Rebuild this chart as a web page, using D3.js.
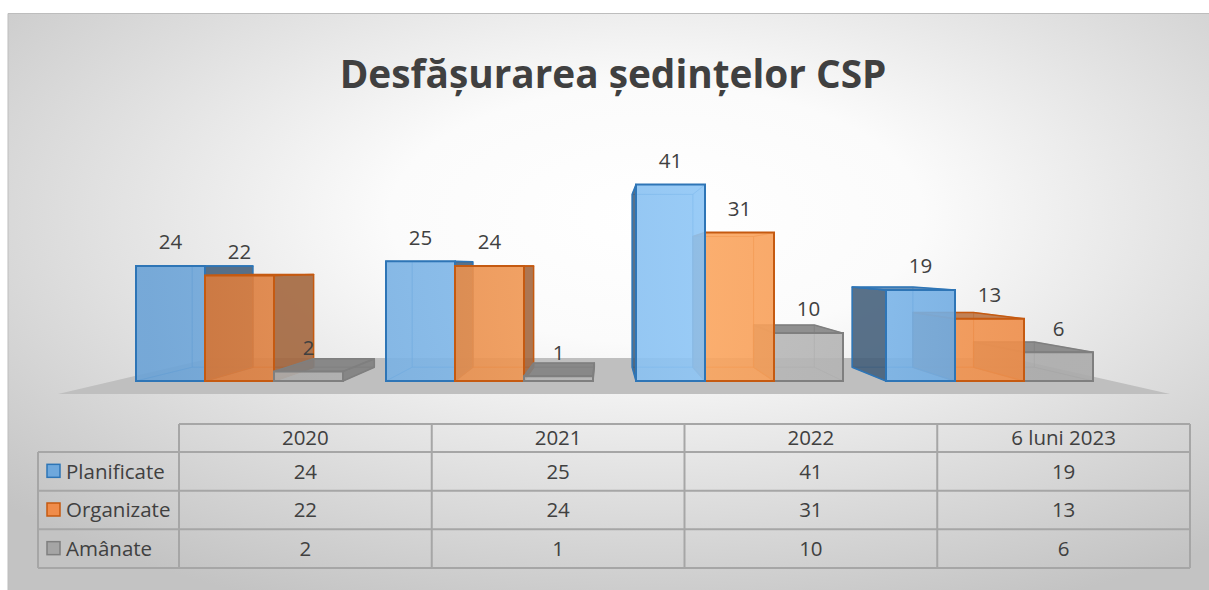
<!DOCTYPE html>
<html>
<head>
<meta charset="utf-8">
<script src="https://cdn.jsdelivr.net/npm/d3@7"></script>
<style>
  body { margin: 0; background: #fff; }
  text { font-family: "Open Sans", Lato, sans-serif; fill: #404040; }
</style>
</head>
<body>
<div class="chart"></div>
<script>
const categories = ["2020", "2021", "2022", "6 luni 2023"]
const seriesNames = ["Planificate", "Organizate", "Amânate"]
const planificate = [24, 25, 41, 19]
const organizate = [22, 24, 31, 13]
const amanate = [2, 1, 10, 6]
const title = "Desfășurarea ședințelor CSP"

const width = 1209, height = 590

const series = [
  {name: seriesNames[0], values: planificate, stroke: "#2e75b6", side: "#3f5a76", top: "#4f7fae",
    stops: ["#6aa2d6", "#8ec6f6", "#68a4dc"], key: "#6fa8dc"},
  {name: seriesNames[1], values: organizate, stroke: "#c55a11", side: "#9f6238", top: "#b9703e",
    stops: ["#d67638", "#fba65f", "#ee8c48"], key: "#f08c4a"},
  {name: seriesNames[2], values: amanate, stroke: "#7f7f7f", side: "#7c7c7c", top: "#7f7f7f",
    stops: ["#a9a9a9", "#bababa", "#ababab"], key: "#a5a5a5"}
]

// perspective: vanishing point + depth factor for the back faces
const VP = {x: 604, y: 266}
const depthK = 0.88

const svg = d3.select(".chart").append("svg")
  .attr("width", width)
  .attr("height", height)

const defs = svg.append("defs")

const bg = defs.append("radialGradient")
  .attr("id", "bg")
  .attr("cx", 0.54).attr("cy", 0.35).attr("r", 0.74)
bg.append("stop").attr("offset", 0).attr("stop-color", "#ffffff")
bg.append("stop").attr("offset", 0.3).attr("stop-color", "#fbfbfb")
bg.append("stop").attr("offset", 1).attr("stop-color", "#c3c3c3")

series.forEach((s, i) => {
  const g = defs.append("linearGradient")
    .attr("id", "front" + i)
    .attr("gradientUnits", "userSpaceOnUse")
    .attr("x1", 100).attr("x2", 1100).attr("y1", 0).attr("y2", 0)
  g.append("stop").attr("offset", 0.05).attr("stop-color", s.stops[0])
  g.append("stop").attr("offset", 0.6).attr("stop-color", s.stops[1])
  g.append("stop").attr("offset", 0.95).attr("stop-color", s.stops[2])
})

svg.append("rect")
  .attr("x", 8).attr("y", 13)
  .attr("width", width - 8).attr("height", height - 13)
  .attr("fill", "url(#bg)")
svg.append("path")
  .attr("d", `M8,${height} V13.5 H${width}`)
  .attr("fill", "none")
  .attr("stroke", "#bdbdbd")
  .attr("stroke-width", 1)

// title
const titleText = svg.append("text")
  .attr("x", 613).attr("y", 88)
  .attr("text-anchor", "middle")
  .attr("font-weight", "bold")
  .attr("font-size", 40)
  .text(title)
const tw = titleText.node().getComputedTextLength()
titleText.attr("font-size", 40 * 547 / tw)

// scales
const x0 = d3.scaleBand()
  .domain(categories)
  .range([136, 1093])
  .paddingInner(0.172)

const x1 = d3.scaleBand()
  .domain(seriesNames)
  .range([0, x0.bandwidth()])

const y = d3.scaleLinear()
  .domain([0, 45])
  .range([381, 381 - 45 * 4.79])

const proj = (p, k) => [VP.x + (p[0] - VP.x) * k, VP.y + (p[1] - VP.y) * k]

// floor
const floorFront = 394, floorBack = 358
const fk = (floorBack - VP.y) / (floorFront - VP.y)
const fl = [x0.range()[0] - 78, floorFront], fr = [x0.range()[1] + 77, floorFront]
svg.append("path")
  .attr("d", d3.line()([fl, fr, proj(fr, fk), proj(fl, fk)]) + "Z")
  .attr("fill", "#bfbfbf")

// boxes
const boxes = []
categories.forEach((c, i) => {
  series.forEach((s, j) => {
    const bx0 = x0(c) + x1(s.name)
    boxes.push({
      cat: c, si: j, s: s, value: s.values[i],
      x0: bx0, x1: bx0 + x1.bandwidth(),
      yt: y(s.values[i]), yb: y(0)
    })
  })
})
boxes.sort((a, b) => Math.abs((b.x0 + b.x1) / 2 - VP.x) - Math.abs((a.x0 + a.x1) / 2 - VP.x))

const line = d3.line()
const face = pts => line(pts) + "Z"

const boxG = svg.append("g").selectAll("g")
  .data(boxes)
  .join("g")

boxG.each(function(d) {
  const g = d3.select(this)
  const FTL = [d.x0, d.yt], FTR = [d.x1, d.yt], FBR = [d.x1, d.yb], FBL = [d.x0, d.yb]
  const BTL = proj(FTL, depthK), BTR = proj(FTR, depthK), BBR = proj(FBR, depthK), BBL = proj(FBL, depthK)

  const hidden = [
    [BTL, BTR, BBR, BBL],
    [FBL, FBR, BBR, BBL]
  ]
  const visible = []
  if (d.x0 > VP.x) visible.push({pts: [FTL, BTL, BBL, FBL], fill: d.s.side})
  else hidden.push([FTL, BTL, BBL, FBL])
  if (d.x1 < VP.x) visible.push({pts: [FTR, BTR, BBR, FBR], fill: d.s.side})
  else hidden.push([FTR, BTR, BBR, FBR])
  if (d.yt > VP.y) visible.push({pts: [FTL, FTR, BTR, BTL], fill: d.s.top})
  else hidden.push([FTL, FTR, BTR, BTL])

  g.selectAll(".hid")
    .data(hidden)
    .join("path")
    .attr("class", "hid")
    .attr("d", face)
    .attr("fill", d.s.key)
    .attr("fill-opacity", 0.15)
    .attr("stroke", d.s.stroke)
    .attr("stroke-opacity", 0.45)
    .attr("stroke-width", 1)

  g.selectAll(".vis")
    .data(visible)
    .join("path")
    .attr("class", "vis")
    .attr("d", f => face(f.pts))
    .attr("fill", f => f.fill)
    .attr("fill-opacity", 0.85)
    .attr("stroke", d.s.stroke)
    .attr("stroke-width", 1.5)
    .attr("stroke-linejoin", "round")

  g.append("path")
    .attr("d", face([FTL, FTR, FBR, FBL]))
    .attr("fill", `url(#front${d.si})`)
    .attr("fill-opacity", 0.88)
    .attr("stroke", d.s.stroke)
    .attr("stroke-width", 2)
})

// data labels
svg.append("g").selectAll("text")
  .data(boxes)
  .join("text")
  .attr("x", d => (d.x0 + d.x1) / 2)
  .attr("y", d => d.yt - 24)
  .attr("dy", "0.36em")
  .attr("text-anchor", "middle")
  .attr("font-size", 20.5)
  .text(d => d.value)

// data table
const tx = d3.scaleBand()
  .domain(categories)
  .range([179, 1190])
const tableLeft = 38, headTop = 424, headBottom = 452
const ty = d3.scaleBand()
  .domain(seriesNames)
  .range([headBottom, 568])

const table = svg.append("g")
  .attr("stroke", "#a6a6a6")
  .attr("stroke-width", 2)
  .attr("fill", "none")

// horizontal lines
table.append("line")
  .attr("x1", tx.range()[0]).attr("x2", tx.range()[1])
  .attr("y1", headTop).attr("y2", headTop)
seriesNames.forEach(n => {
  table.append("line")
    .attr("x1", tableLeft).attr("x2", tx.range()[1])
    .attr("y1", ty(n)).attr("y2", ty(n))
})
table.append("line")
  .attr("x1", tableLeft).attr("x2", tx.range()[1])
  .attr("y1", ty.range()[1]).attr("y2", ty.range()[1])
// vertical lines
table.append("line")
  .attr("x1", tableLeft).attr("x2", tableLeft)
  .attr("y1", headBottom).attr("y2", ty.range()[1])
categories.forEach(c => {
  table.append("line")
    .attr("x1", tx(c)).attr("x2", tx(c))
    .attr("y1", headTop).attr("y2", ty.range()[1])
})
table.append("line")
  .attr("x1", tx.range()[1]).attr("x2", tx.range()[1])
  .attr("y1", headTop).attr("y2", ty.range()[1])

const cellText = svg.append("g")
  .attr("font-size", 20.5)

cellText.selectAll(".head")
  .data(categories)
  .join("text")
  .attr("class", "head")
  .attr("x", c => tx(c) + tx.bandwidth() / 2)
  .attr("y", (headTop + headBottom) / 2)
  .attr("dy", "0.36em")
  .attr("text-anchor", "middle")
  .text(c => c)

series.forEach(s => {
  const cy = ty(s.name) + ty.bandwidth() / 2
  cellText.append("rect")
    .attr("x", 47).attr("y", cy - 7)
    .attr("width", 13).attr("height", 13)
    .attr("fill", s.key)
    .attr("stroke", s.stroke)
    .attr("stroke-width", 1.5)
  cellText.append("text")
    .attr("x", 66).attr("y", cy)
    .attr("dy", "0.36em")
    .text(s.name)
  cellText.selectAll(null)
    .data(s.values)
    .join("text")
    .attr("x", (v, i) => tx(categories[i]) + tx.bandwidth() / 2)
    .attr("y", cy)
    .attr("dy", "0.36em")
    .attr("text-anchor", "middle")
    .text(v => v)
})
</script>
</body>
</html>
